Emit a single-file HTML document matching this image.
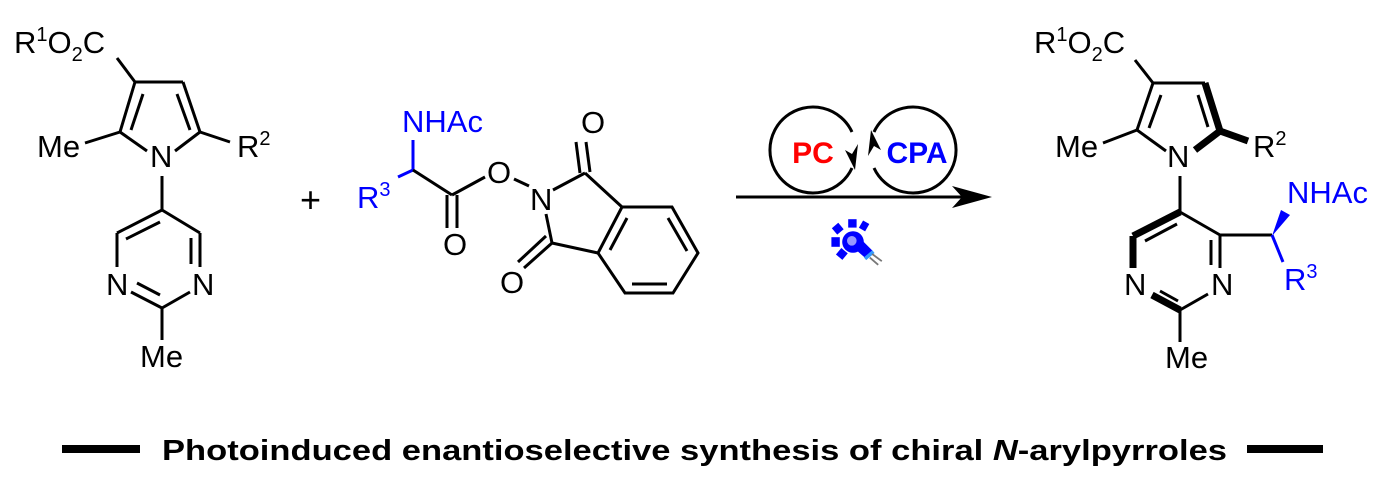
<!DOCTYPE html>
<html><head><meta charset="utf-8"><style>
html,body{margin:0;padding:0;background:#fff;width:1377px;height:480px;overflow:hidden}
svg{display:block}
text{font-family:"Liberation Sans",Arial,sans-serif}
</style></head><body>
<svg width="1377" height="480" viewBox="0 0 1377 480" xmlns="http://www.w3.org/2000/svg">
<g stroke="#000" stroke-width="3" fill="none" stroke-linecap="butt">
<line x1="117" y1="58" x2="135" y2="82"/>
<line x1="135" y1="82" x2="183" y2="82"/>
<line x1="183" y1="82" x2="200" y2="132"/>
<line x1="177" y1="94" x2="190" y2="130"/>
<line x1="200" y1="132" x2="175" y2="151"/>
<line x1="120" y1="132" x2="147" y2="151"/>
<line x1="135" y1="82" x2="120" y2="132"/>
<line x1="143" y1="94" x2="131" y2="130"/>
<line x1="120" y1="132" x2="85" y2="143"/>
<line x1="200" y1="132" x2="230" y2="142"/>
<line x1="162" y1="176" x2="162" y2="210"/>
<line x1="162" y1="210" x2="117" y2="233"/>
<line x1="160" y1="222" x2="126" y2="239"/>
<line x1="162" y1="210" x2="200" y2="233"/>
<line x1="117" y1="233" x2="117" y2="267"/>
<line x1="200" y1="233" x2="200" y2="267"/>
<line x1="191" y1="238" x2="191" y2="264"/>
<line x1="131" y1="292" x2="162" y2="308"/>
<line x1="137" y1="283" x2="160" y2="295"/>
<line x1="190" y1="292" x2="162" y2="308"/>
<line x1="162" y1="308" x2="162" y2="340"/>
<line x1="413" y1="140" x2="413" y2="170" stroke="#00f"/>
<line x1="413" y1="170" x2="398" y2="177" stroke="#00f"/>
<line x1="413" y1="170" x2="452" y2="195"/>
<line x1="447" y1="195" x2="447" y2="228"/>
<line x1="457" y1="195" x2="457" y2="228"/>
<line x1="452" y1="195" x2="485" y2="177"/>
<line x1="514" y1="179" x2="529" y2="186"/>
<line x1="553" y1="190" x2="585" y2="173"/>
<line x1="546" y1="214" x2="552" y2="243"/>
<line x1="580" y1="173" x2="576" y2="142"/>
<line x1="590" y1="172" x2="586" y2="142"/>
<line x1="552" y1="243" x2="524" y2="268"/>
<line x1="546" y1="236" x2="518" y2="262"/>
<line x1="585" y1="173" x2="622" y2="207"/>
<line x1="552" y1="243" x2="598" y2="253"/>
<polygon points="622,207 672,207 698,253 673,293 625,293 598,253"/>
<line x1="627" y1="218" x2="610" y2="250"/>
<line x1="668" y1="218" x2="687" y2="251"/>
<line x1="632" y1="284" x2="667" y2="284"/>
<line x1="736" y1="197" x2="965" y2="197"/>
<path d="M852,168 A43,43 0 1 1 852,132"/>
<path d="M874,132 A43,43 0 1 1 874,168"/>
<line x1="1135" y1="60" x2="1153" y2="83"/>
<line x1="1153" y1="83" x2="1205" y2="83"/>
<line x1="1153" y1="83" x2="1137" y2="130"/>
<line x1="1161" y1="95" x2="1149" y2="128"/>
<line x1="1137" y1="130" x2="1166" y2="151"/>
<line x1="1137" y1="130" x2="1103" y2="143"/>
<line x1="1198" y1="95" x2="1208" y2="127"/>
<line x1="1180" y1="176" x2="1180" y2="212"/>
<line x1="1180" y1="212" x2="1220" y2="235"/>
<line x1="1177" y1="224" x2="1145" y2="241"/>
<line x1="1220" y1="235" x2="1272" y2="235"/>
<line x1="1220" y1="235" x2="1220" y2="268"/>
<line x1="1211" y1="240" x2="1211" y2="265"/>
<line x1="1208" y1="294" x2="1180" y2="310"/>
<line x1="1180" y1="310" x2="1180" y2="342"/>
<line x1="1160" y1="291" x2="1178" y2="301" />
<line x1="1272" y1="235" x2="1283" y2="262" stroke="#00f"/>
</g>
<g stroke="#000" stroke-width="7" fill="none" stroke-linecap="butt">
<line x1="1205" y1="83" x2="1220" y2="131"/>
<line x1="1220" y1="131" x2="1248" y2="141"/>
<line x1="1220" y1="131" x2="1195" y2="150"/>
<line x1="1180" y1="212" x2="1133" y2="236"/>
<line x1="1133" y1="236" x2="1133" y2="268"/>
<line x1="1180" y1="310" x2="1152" y2="295"/>
</g>
<polygon points="1272,236 1281,210 1290,215" fill="#00f"/>
<polygon points="992,197 952,186 962,197 952,208" fill="#000"/>
<polygon points="855,170 845,150 852,154 858,144" fill="#000"/>
<polygon points="871,130 881,150 874,146 868,156" fill="#000"/>
<g transform="translate(853,242) scale(1.2)">
<g fill="#00f">
<rect x="-18" y="-4" width="7" height="8"/>
<rect x="-4" y="-19" width="7" height="7"/>
<rect x="6" y="-17" width="6" height="7" transform="rotate(30 9 -13)"/>
<rect x="-16" y="-15" width="7" height="7" transform="rotate(-40 -12 -11)"/>
<rect x="-13" y="6" width="7" height="7" transform="rotate(40 -10 10)"/>
<circle cx="0" cy="0" r="9"/>
<polygon points="2,-7 17,8 11,14 -5,0"/>
</g>
<circle cx="-1" cy="-1" r="4" fill="#99f"/>
<line x1="10" y1="14" x2="17" y2="8" stroke="#39f" stroke-width="3"/>
<line x1="14" y1="13" x2="21" y2="19" stroke="#777" stroke-width="1.5"/>
<line x1="16" y1="10" x2="24" y2="16" stroke="#777" stroke-width="1.5"/>
</g>
<g font-size="31" fill="#000">
<text x="14" y="53">R<tspan font-size="20" dy="-12">1</tspan><tspan dy="12">O</tspan><tspan font-size="20" dy="8">2</tspan><tspan dy="-8">C</tspan></text>
<text x="37" y="157">Me</text>
<text x="150" y="167">N</text>
<text x="237" y="157">R<tspan font-size="20" dy="-12">2</tspan></text>
<text x="106" y="295">N</text>
<text x="192" y="295">N</text>
<text x="140" y="367">Me</text>
<text x="300" y="212" font-size="36">+</text>
<text x="487" y="183">O</text>
<text x="530" y="210">N</text>
<text x="581" y="133">O</text>
<text x="443" y="255">O</text>
<text x="500" y="293">O</text>
<text x="1034" y="53">R<tspan font-size="20" dy="-12">1</tspan><tspan dy="12">O</tspan><tspan font-size="20" dy="8">2</tspan><tspan dy="-8">C</tspan></text>
<text x="1055" y="157">Me</text>
<text x="1167" y="167">N</text>
<text x="1253" y="157">R<tspan font-size="20" dy="-12">2</tspan></text>
<text x="1124" y="295">N</text>
<text x="1211" y="295">N</text>
<text x="1165" y="368">Me</text>
</g>
<g font-size="31" fill="#00f">
<text x="357" y="208">R<tspan font-size="20" dy="-12">3</tspan></text>
<text x="402" y="132">NHAc</text>
<text x="1287" y="203">NHAc</text>
<text x="1284" y="290">R<tspan font-size="20" dy="-12">3</tspan></text>
</g>
<text x="813" y="163" font-size="30" font-weight="bold" fill="#f00" text-anchor="middle">PC</text>
<text x="917" y="163" font-size="30" font-weight="bold" fill="#00f" text-anchor="middle">CPA</text>
<rect x="62" y="445" width="78" height="8" fill="#000"/>
<rect x="1247" y="445" width="76" height="8" fill="#000"/>
<text x="162" y="460" font-size="29" font-weight="bold" fill="#000" textLength="1065" lengthAdjust="spacingAndGlyphs">Photoinduced enantioselective synthesis of chiral <tspan font-style="italic">N</tspan>-arylpyrroles</text>
</svg>
</body></html>
